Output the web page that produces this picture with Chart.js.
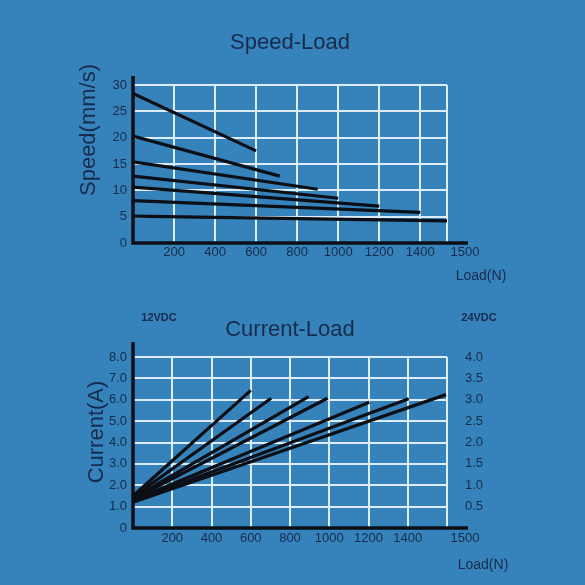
<!DOCTYPE html>
<html>
<head>
<meta charset="utf-8">
<script src="https://cdn.jsdelivr.net/npm/chart.js@4/dist/chart.umd.min.js"></script>
<style>
    body { margin: 0; background: #3583ba; }
    #wrap { position: relative; width: 585px; height: 585px; background: #3583ba; }
    #speedChart { position: absolute; left: 0; top: 0; }
    #currentChart { position: absolute; left: 0; top: 295px; }
</style>
</head>
<body>
<div id="wrap">
    <canvas id="speedChart" width="585" height="295"></canvas>
    <canvas id="currentChart" width="585" height="290"></canvas>
</div>
<script>
// Speed-Load: each line goes from load 0 to its end load
const speedEndLoads = [600, 715, 900, 1000, 1200, 1400, 1530];
const speedAtZero = [28.4, 20.3, 15.4, 12.7, 10.6, 8.05, 5.1];
const speedAtEnd = [17.5, 12.7, 10.2, 8.5, 7.0, 5.8, 4.2];

// Current-Load (12VDC scale on the left)
const currentEndLoads = [600, 704, 895, 991, 1204, 1405, 1595];
const currentAtZero = [1.5, 1.45, 1.4, 1.35, 1.3, 1.25, 1.2];
const currentAtEnd = [6.44, 6.07, 6.15, 6.07, 5.88, 6.05, 6.24];

const loadTicks = [0, 200, 400, 600, 800, 1000, 1200, 1400];
const lastLoadLabel = '1500';

const navy = '#182b4d';
const gridColor = '#dcedf8';
const inkColor = '#0c0f16';

Chart.defaults.font.family = '"Liberation Sans", Arial, sans-serif';

// black axes that run a little past the grid, like the drawing
const axisLines = {
    id: 'axisLines',
    afterDraw(chart, args, opts) {
        const {ctx, chartArea} = chart;
        ctx.save();
        ctx.strokeStyle = inkColor;
        ctx.lineWidth = 3.5;
        ctx.beginPath();
        ctx.moveTo(chartArea.left, chartArea.top - opts.up);
        ctx.lineTo(chartArea.left, chartArea.bottom);
        ctx.lineTo(chartArea.right + opts.right, chartArea.bottom);
        ctx.stroke();
        ctx.restore();
    }
};

// loose captions placed around the plot area
const captions = {
    id: 'captions',
    afterDraw(chart, args, opts) {
        const {ctx, chartArea} = chart;
        opts.items.forEach(item => {
            ctx.save();
            ctx.font = item.font;
            ctx.fillStyle = navy;
            ctx.textAlign = 'center';
            ctx.textBaseline = 'middle';
            const x = item.fromRight ? chartArea.right + item.dx : chartArea.left + item.dx;
            const y = item.fromBottom ? chartArea.bottom + item.dy : chartArea.top + item.dy;
            ctx.translate(x, y);
            if (item.vertical) {
                ctx.rotate(-Math.PI / 2);
            }
            ctx.fillText(item.text, 0, 0);
            ctx.restore();
        });
    }
};

function makeLines(endLoads, atZero, atEnd) {
    return endLoads.map((end, i) => ({
        data: [{x: 0, y: atZero[i]}, {x: end, y: atEnd[i]}],
        borderColor: inkColor,
        borderWidth: 3.2,
        pointRadius: 0,
        fill: false
    }));
}

function loadAxis(max, padding) {
    return {
        type: 'linear',
        min: 0,
        max: max,
        afterBuildTicks: axis => {
            axis.ticks = loadTicks.concat([max]).map(v => ({value: v}));
        },
        afterFit: axis => { axis.height = 30; },
        border: { display: false },
        grid: { color: gridColor, lineWidth: 2, drawTicks: false },
        ticks: {
            autoSkip: false,
            maxRotation: 0,
            padding: padding,
            color: navy,
            font: { size: 13 },
            callback: v => v === 0 ? '' : (v === max ? '          ' + lastLoadLabel : v)
        }
    };
}

const speedCtx = document.getElementById('speedChart');
new Chart(speedCtx, {
    type: 'line',
    data: { datasets: makeLines(speedEndLoads, speedAtZero, speedAtEnd) },
    plugins: [axisLines, captions],
    options: {
        responsive: false,
        animation: false,
        layout: { padding: { left: 70, right: 138, top: 10, bottom: 22 } },
        plugins: {
            legend: { display: false },
            tooltip: { enabled: false },
            title: {
                display: true,
                text: 'Speed-Load',
                fullSize: false,
                color: navy,
                font: { size: 22, weight: 'normal' },
                padding: { top: 20, bottom: 28.6 }
            },
            axisLines: { up: 9, right: 21 },
            captions: {
                items: [
                    { text: 'Speed(mm/s)', font: '22px "Liberation Sans", Arial, sans-serif', vertical: true, dx: -44, dy: 45 },
                    { text: 'Load(N)', font: '14px "Liberation Sans", Arial, sans-serif', fromRight: true, fromBottom: true, dx: 34, dy: 33 }
                ]
            }
        },
        scales: {
            x: loadAxis(1530, 2),
            y: {
                min: 0,
                max: 30,
                afterFit: axis => { axis.width = 63; },
                border: { display: false },
                grid: { color: gridColor, lineWidth: 2, drawTicks: false },
                ticks: { stepSize: 5, padding: 6, color: navy, font: { size: 13 } }
            }
        }
    }
});

const currentCtx = document.getElementById('currentChart');
new Chart(currentCtx, {
    type: 'line',
    data: { datasets: makeLines(currentEndLoads, currentAtZero, currentAtEnd) },
    plugins: [axisLines, captions],
    options: {
        responsive: false,
        animation: false,
        layout: { padding: { left: 70, right: 98, top: 5, bottom: 27 } },
        plugins: {
            legend: { display: false },
            tooltip: { enabled: false },
            title: {
                display: true,
                text: 'Current-Load',
                fullSize: false,
                color: navy,
                font: { size: 22, weight: 'normal' },
                padding: { top: 17, bottom: 13.6 }
            },
            axisLines: { up: 15, right: 21 },
            captions: {
                items: [
                    { text: 'Current(A)', font: '22px "Liberation Sans", Arial, sans-serif', vertical: true, dx: -36, dy: 75 },
                    { text: 'Load(N)', font: '14px "Liberation Sans", Arial, sans-serif', fromRight: true, fromBottom: true, dx: 36, dy: 37 },
                    { text: '12VDC', font: 'bold 11px "Liberation Sans", Arial, sans-serif', dx: 26, dy: -39 },
                    { text: '24VDC', font: 'bold 11px "Liberation Sans", Arial, sans-serif', fromRight: true, dx: 32, dy: -39 }
                ]
            }
        },
        scales: {
            x: loadAxis(1600, 3),
            y: {
                position: 'left',
                min: 0,
                max: 8,
                afterFit: axis => { axis.width = 63; },
                border: { display: false },
                grid: { color: gridColor, lineWidth: 2, drawTicks: false },
                ticks: {
                    stepSize: 1,
                    padding: 6,
                    color: navy,
                    font: { size: 13 },
                    callback: v => v === 0 ? '0' : v.toFixed(1)
                }
            },
            y24: {
                position: 'right',
                min: 0,
                max: 4,
                afterFit: axis => { axis.width = 40; },
                border: { display: false },
                grid: { display: false },
                ticks: {
                    stepSize: 0.5,
                    padding: 10,
                    color: navy,
                    font: { size: 13 },
                    callback: v => v === 0 ? '' : v.toFixed(1)
                }
            }
        }
    }
});
</script>
</body>
</html>
